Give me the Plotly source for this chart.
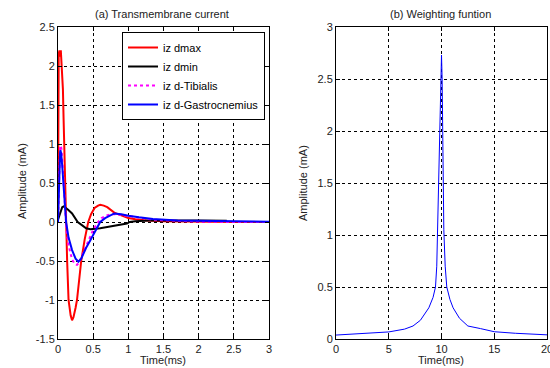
import plotly.graph_objects as go

W, H = 550, 368

# ---------------- data: (a) Transmembrane current ----------------
t_dmax = [0, 0.005, 0.01, 0.02, 0.03, 0.04, 0.05, 0.06, 0.07, 0.08, 0.09, 0.1, 0.115, 0.13, 0.15,
          0.18, 0.2, 0.22, 0.25, 0.27, 0.3, 0.33, 0.38, 0.43, 0.47, 0.52, 0.57, 0.6, 0.65, 0.7,
          0.8, 0.9, 1.0, 1.1, 1.26, 1.5, 2.0, 2.5, 3.0]
iz_dmax = [0, 1.5, 2.15, 2.2, 2.12, 2.2, 2.05, 1.95, 1.7, 1.3, 0.85, 0.4, 0.0, -0.5, -1.0,
           -1.2, -1.26, -1.22, -1.1, -1.0, -0.75, -0.5, -0.22, 0.0, 0.1, 0.18, 0.21, 0.22, 0.21, 0.19,
           0.12, 0.08, 0.05, 0.035, 0.02, 0.01, 0.003, 0.0, 0.0]

t_dmin = [0, 0.02, 0.04, 0.06, 0.08, 0.1, 0.14, 0.2, 0.25, 0.28, 0.34, 0.4, 0.46, 0.52, 0.6,
          0.7, 0.79, 0.9, 0.98, 1.02, 1.1, 1.3, 1.6, 2.0, 2.4]
iz_dmin = [0.03, 0.09, 0.15, 0.19, 0.2, 0.19, 0.16, 0.11, 0.05, 0.0, -0.04, -0.08, -0.094, -0.09, -0.08,
           -0.065, -0.05, -0.035, -0.02, 0.0, 0.01, 0.018, 0.02, 0.018, 0.015]

t_tib = [0, 0.01, 0.02, 0.03, 0.04, 0.05, 0.06, 0.08, 0.1, 0.12, 0.15, 0.2, 0.24, 0.27, 0.3,
         0.35, 0.4, 0.45, 0.5, 0.57, 0.62, 0.68, 0.75, 0.82, 0.9, 1.0, 1.15, 1.35, 1.7, 2.0, 2.5, 3.0]
iz_tib = [0.0, 0.45, 0.85, 0.97, 0.98, 0.93, 0.8, 0.45, 0.12, -0.1, -0.3, -0.48, -0.54, -0.55, -0.52,
          -0.42, -0.31, -0.2, -0.1, 0.0, 0.05, 0.08, 0.1, 0.1, 0.09, 0.07, 0.05, 0.03, 0.015, 0.005, 0.0, 0.0]

t_gas = [0, 0.01, 0.02, 0.03, 0.035, 0.045, 0.06, 0.08, 0.1, 0.115, 0.15, 0.2, 0.25, 0.29, 0.33,
         0.36, 0.4, 0.45, 0.5, 0.55, 0.6, 0.67, 0.73, 0.8, 0.9, 1.0, 1.15, 1.35, 1.7, 2.2, 2.6, 3.0]
iz_gas = [0.0, 0.4, 0.78, 0.9, 0.92, 0.88, 0.72, 0.5, 0.2, 0.0, -0.2, -0.36, -0.47, -0.51, -0.47,
          -0.4, -0.33, -0.25, -0.17, -0.09, 0.0, 0.05, 0.08, 0.11, 0.1, 0.08, 0.06, 0.04, 0.02, 0.01, 0.005, 0.003]

# ---------------- data: (b) Weighting function ----------------
t_w = [0, 2.5, 5, 6.5, 7.3, 8, 8.8, 9.2, 9.43, 9.55, 9.62, 9.72, 9.84, 9.94, 10.0,
       10.06, 10.1, 10.16, 10.22, 10.35, 10.5, 10.8, 11.1, 11.7, 12.5, 13.7, 15, 17, 20]
w_val = [0.038, 0.05, 0.068, 0.095, 0.125, 0.18, 0.3, 0.4, 0.5, 0.7, 1.0, 1.5, 2.05, 2.5, 2.73,
         2.5, 2.05, 1.5, 1.05, 0.7, 0.5, 0.38, 0.3, 0.2, 0.125, 0.1, 0.07, 0.055, 0.04]

left_yticks = [-1.5, -1, -0.5, 0, 0.5, 1, 1.5, 2, 2.5]
left_xticks = [0, 0.5, 1, 1.5, 2, 2.5, 3]
right_yticks = [0, 0.5, 1, 1.5, 2, 2.5, 3]
right_xticks = [0, 5, 10, 15, 20]

FONT = "Liberation Sans, Arial, sans-serif"

fig = go.Figure()
fig.add_trace(go.Scatter(x=t_dmax, y=iz_dmax, mode="lines", name="iz dmax",
                         line=dict(color="#ff0000", width=2), xaxis="x", yaxis="y"))
fig.add_trace(go.Scatter(x=t_dmin, y=iz_dmin, mode="lines", name="iz dmin",
                         line=dict(color="#000000", width=2), xaxis="x", yaxis="y"))
fig.add_trace(go.Scatter(x=t_tib, y=iz_tib, mode="lines", name="iz d-Tibialis",
                         line=dict(color="#ff00ff", width=2, dash="dot"), xaxis="x", yaxis="y"))
fig.add_trace(go.Scatter(x=t_gas, y=iz_gas, mode="lines", name="iz d-Gastrocnemius",
                         line=dict(color="#0000ff", width=2), xaxis="x", yaxis="y"))
fig.add_trace(go.Scatter(x=t_w, y=w_val, mode="lines", name="w", showlegend=False,
                         line=dict(color="#0000ff", width=1), xaxis="x2", yaxis="y2"))

ytop, ybot = 27, 339
ydom = [1 - ybot / H, 1 - ytop / H]

axis_common = dict(showline=True, linecolor="#000000", linewidth=1, mirror="ticks",
                   ticks="inside", ticklen=4, tickcolor="#000000", automargin=False,
                   showgrid=True, gridcolor="#000000", griddash="dot", gridwidth=1,
                   zeroline=False, ticklabeloverflow="allow",
                   tickfont=dict(family=FONT, size=11, color="#222222"))

fig.update_layout(
    template="none",
    width=W, height=H, autosize=False,
    margin=dict(l=0, r=0, t=0, b=0, pad=0),
    paper_bgcolor="white", plot_bgcolor="white",
    showlegend=True,
    xaxis=dict(domain=[58 / W, 269 / W], range=[0, 3], tickvals=left_xticks,
               ticktext=[f"{v:g}" for v in left_xticks], anchor="y", **axis_common),
    yaxis=dict(domain=ydom, range=[-1.5, 2.5], tickvals=left_yticks,
               ticktext=[f"{v:g}" for v in left_yticks], anchor="x", **axis_common),
    xaxis2=dict(domain=[336 / W, 547 / W], range=[0, 20], tickvals=right_xticks,
                ticktext=[f"{v:g}" for v in right_xticks], anchor="y2", **axis_common),
    yaxis2=dict(domain=ydom, range=[0, 3], tickvals=right_yticks,
                ticktext=[f"{v:g}" for v in right_yticks], anchor="x2", **axis_common),
    legend=dict(x=122 / W, y=1 - 32 / H, xanchor="left", yanchor="top",
                bgcolor="white", bordercolor="#000000", borderwidth=1,
                font=dict(family=FONT, size=11, color="#000000"),
                tracegroupgap=0, itemwidth=30),
)

def ann(text, xpx, ypx, angle=0):
    fig.add_annotation(text=text, x=xpx / W, y=1 - ypx / H, xref="paper", yref="paper",
                       showarrow=False, textangle=angle, xanchor="center", yanchor="middle",
                       font=dict(family=FONT, size=11, color="#222222"))

ann("(a) Transmembrane current", 162, 14)
ann("(b) Weighting funtion", 440, 14)
ann("Time(ms)", 163, 360)
ann("Time(ms)", 441, 360)
ann("Amplitude (mA)", 22, 181, -90)
ann("Amplitude (mA)", 303, 183, -90)

fig.write_html("out.html", config={"responsive": False, "displayModeBar": False},
               post_script="document.body.style.margin='0';document.body.style.overflow='hidden';")
